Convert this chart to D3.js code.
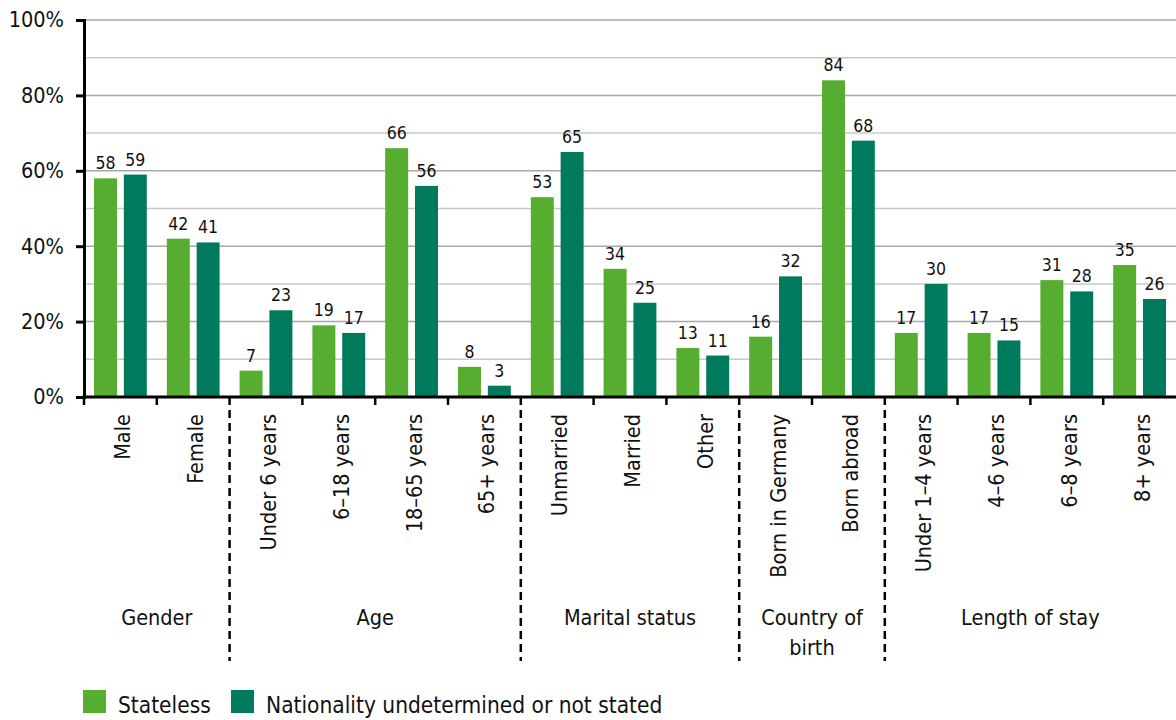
<!DOCTYPE html>
<html>
<head>
<meta charset="utf-8">
<script src="https://cdn.jsdelivr.net/npm/d3@7"></script>
<style>
  body { margin: 0; background: #fff; }
  svg text { font-family: "DejaVu Sans Condensed", "DejaVu Sans", sans-serif; fill: #111; }
</style>
</head>
<body>
<svg id="chart" width="1176" height="720"></svg>
<script>
const categories = ["Male", "Female", "Under 6 years", "6–18 years", "18–65 years", "65+ years",
  "Unmarried", "Married", "Other", "Born in Germany", "Born abroad",
  "Under 1–4 years", "4–6 years", "6–8 years", "8+ years"];
const stateless = [58, 42, 7, 19, 66, 8, 53, 34, 13, 16, 84, 17, 17, 31, 35];
const undetermined = [59, 41, 23, 17, 56, 3, 65, 25, 11, 32, 68, 30, 15, 28, 26];
const groups = [
  { name: ["Gender"], start: 0, end: 2 },
  { name: ["Age"], start: 2, end: 6 },
  { name: ["Marital status"], start: 6, end: 9 },
  { name: ["Country of", "birth"], start: 9, end: 11 },
  { name: ["Length of stay"], start: 11, end: 15 }
];
const seriesNames = ["Stateless", "Nationality undetermined or not stated"];
const colors = ["#56ae30", "#007a5c"];
const yTicks = [0, 20, 40, 60, 80, 100];

const svg = d3.select("#chart");
const margin = { top: 20, right: 0, bottom: 323, left: 84 };
const width = 1176;
const height = 720;
const innerW = width - margin.left - margin.right;
const innerH = height - margin.top - margin.bottom;

const g = svg.append("g").attr("transform", `translate(${margin.left},${margin.top})`);

const x = d3.scaleBand().domain(d3.range(categories.length)).range([0, innerW]);
const bw = x.bandwidth();
const xSub = d3.scaleBand().domain([0, 1]).range([10, bw - 10]).paddingInner(0.23);
const y = d3.scaleLinear().domain([0, 100]).range([innerH, 0]);

// grid lines every 10%
g.selectAll(".grid")
  .data(d3.range(10, 101, 10))
  .enter()
  .append("line")
  .attr("x1", 0)
  .attr("x2", innerW)
  .attr("y1", d => y(d))
  .attr("y2", d => y(d))
  .attr("stroke", d => d % 20 === 0 ? "#a8a8a8" : "#c8c8c8")
  .attr("stroke-width", 1.5);

// bars
const series = [stateless, undetermined];
series.forEach((vals, si) => {
  g.selectAll(".bar-" + si)
    .data(vals)
    .enter()
    .append("rect")
    .attr("x", (d, i) => x(i) + xSub(si))
    .attr("y", d => y(d))
    .attr("width", xSub.bandwidth())
    .attr("height", d => innerH - y(d))
    .attr("fill", colors[si]);

  g.selectAll(".val-" + si)
    .data(vals)
    .enter()
    .append("text")
    .attr("x", (d, i) => x(i) + xSub(si) + xSub.bandwidth() / 2)
    .attr("y", d => y(d) - 9)
    .attr("text-anchor", "middle")
    .style("font-size", "17.5px")
    .text(d => d);
});

// y axis
const yAxis = g.append("g")
  .call(d3.axisLeft(y).tickValues(yTicks).tickFormat(d => d + "%").tickSize(8).tickPadding(12));
yAxis.select(".domain").attr("stroke", "#000").attr("stroke-width", 3);
yAxis.selectAll(".tick line").attr("stroke", "#000").attr("stroke-width", 3);
yAxis.selectAll(".tick text").style("font-size", "21.5px").attr("fill", "#111");

// x axis baseline and boundary ticks
g.append("line")
  .attr("x1", -1.5).attr("x2", innerW)
  .attr("y1", innerH).attr("y2", innerH)
  .attr("stroke", "#000").attr("stroke-width", 3);

const boundaries = d3.range(categories.length).map(i => x(i));
const dashed = groups.slice(1).map(gr => gr.start);

g.selectAll(".xtick")
  .data(boundaries.filter((d, i) => !dashed.includes(i)))
  .enter()
  .append("line")
  .attr("x1", d => d).attr("x2", d => d)
  .attr("y1", innerH).attr("y2", innerH + 8)
  .attr("stroke", "#000").attr("stroke-width", 2.5);

g.selectAll(".sep")
  .data(dashed)
  .enter()
  .append("line")
  .attr("x1", d => x(d)).attr("x2", d => x(d))
  .attr("y1", innerH).attr("y2", innerH + 264)
  .attr("stroke", "#000").attr("stroke-width", 2.5)
  .attr("stroke-dasharray", "8,5");

// category labels
g.selectAll(".cat")
  .data(categories)
  .enter()
  .append("text")
  .attr("transform", (d, i) => `translate(${x(i) + bw / 2 + 10},${innerH + 17}) rotate(-90)`)
  .attr("text-anchor", "end")
  .style("font-size", "21.5px")
  .text(d => d);

// group labels
groups.forEach(gr => {
  const cx = (x(gr.start) + (gr.end < categories.length ? x(gr.end) : innerW)) / 2;
  gr.name.forEach((line, li) => {
    g.append("text")
      .attr("x", cx)
      .attr("y", innerH + 228 + li * 30)
      .attr("text-anchor", "middle")
      .style("font-size", "21.5px")
      .text(line);
  });
});

// legend
const legendX = [83, 231];
seriesNames.forEach((name, si) => {
  svg.append("rect")
    .attr("x", legendX[si]).attr("y", 690)
    .attr("width", 23).attr("height", 23)
    .attr("fill", colors[si]);
  svg.append("text")
    .attr("x", legendX[si] + 35).attr("y", 713)
    .style("font-size", "22.5px")
    .text(name);
});
</script>
</body>
</html>
